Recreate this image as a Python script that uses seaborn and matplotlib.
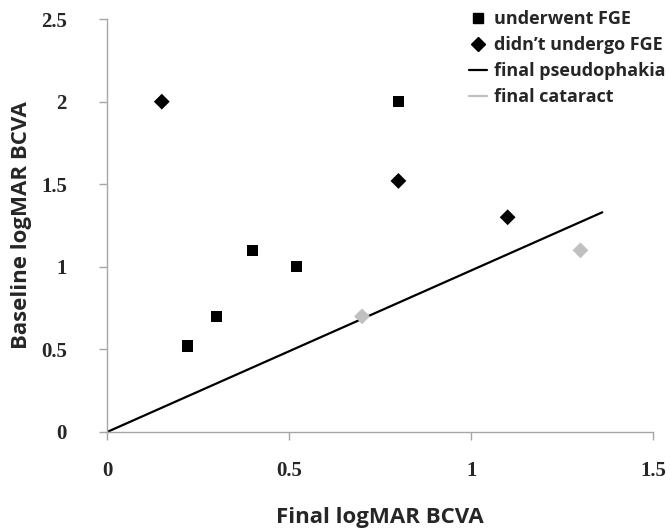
import matplotlib
matplotlib.use("Agg")
import matplotlib.pyplot as plt
import pandas as pd
import seaborn as sns
from matplotlib.lines import Line2D


# patients who underwent FGE (squares)
fge_final = [0.22, 0.30, 0.40, 0.52, 0.80]
fge_baseline = [0.52, 0.70, 1.10, 1.00, 2.00]

# patients who did not undergo FGE (black diamonds)
no_fge_final = [0.15, 0.80, 1.10]
no_fge_baseline = [2.00, 1.52, 1.30]

# final cataract (grey diamonds)
cataract_final = [0.70, 1.30]
cataract_baseline = [0.70, 1.10]

# reference line
line_x = [0.0, 1.36]
line_y = [0.0, 1.33]

x_ticks = [0, 0.5, 1, 1.5]
y_ticks = [0, 0.5, 1, 1.5, 2, 2.5]

GREY = "#a6a6a6"
LIGHT = "#c0c0c0"

sns.set_theme(style="white")
plt.rcParams["font.family"] = ["Open Sans", "DejaVu Sans"]

fig = plt.figure(figsize=(6.7, 5.3), dpi=100)
ax = fig.add_axes([0.16, 0.185, 0.815, 0.779])

sns.lineplot(x=line_x, y=line_y, ax=ax, color="black", linewidth=1.6)

points = pd.DataFrame({
    "final": fge_final + no_fge_final + cataract_final,
    "baseline": fge_baseline + no_fge_baseline + cataract_baseline,
    "group": ["fge"] * len(fge_final) + ["no_fge"] * len(no_fge_final)
    + ["cataract"] * len(cataract_final),
})
sns.scatterplot(
    data=points, x="final", y="baseline", hue="group", style="group",
    palette={"fge": "black", "no_fge": "black", "cataract": LIGHT},
    markers={"fge": "s", "no_fge": "D", "cataract": "D"},
    s=65, linewidth=0, ax=ax, legend=False, zorder=3,
)

ax.set_xlim(0, 1.5)
ax.set_ylim(0, 2.5)
ax.set_xticks(x_ticks)
ax.set_xticklabels(["0", "0.5", "1", "1.5"])
ax.set_yticks(y_ticks)
ax.set_yticklabels(["0", "0.5", "1", "1.5", "2", "2.5"])
for lbl in ax.get_xticklabels() + ax.get_yticklabels():
    lbl.set_family(["Liberation Serif"])
    lbl.set_fontweight("bold")
    lbl.set_fontsize(15)

sns.despine(ax=ax)
for side in ("left", "bottom"):
    ax.spines[side].set_color(GREY)
    ax.spines[side].set_linewidth(1.0)
ax.tick_params(axis="both", direction="out", length=6, width=1, color=GREY,
               left=True, bottom=True)
ax.tick_params(axis="x", pad=15)
ax.tick_params(axis="y", pad=23)

ax.set_xlabel("Final logMAR BCVA", fontsize=16, fontweight="bold")
ax.set_ylabel("Baseline logMAR BCVA", fontsize=16, fontweight="bold")
ax.xaxis.set_label_coords(0.5, -0.182)
ax.yaxis.set_label_coords(-0.137, 0.5)

handles = [
    Line2D([], [], marker="s", color="black", linestyle="none", markersize=7),
    Line2D([], [], marker="D", color="black", linestyle="none", markersize=7),
    Line2D([], [], color="black", linewidth=1.6),
    Line2D([], [], color=LIGHT, linewidth=1.6),
]
labels = ["underwent FGE", "didn\u2019t undergo FGE", "final pseudophakia", "final cataract"]
fig.legend(handles, labels, loc="upper left", bbox_to_anchor=(0.675, 1.012),
           frameon=False, handlelength=1.0, handletextpad=0.4, labelspacing=0.45,
           prop={"family": "Open Sans", "weight": "bold", "size": 13})

fig.savefig("out.png", dpi=100)
